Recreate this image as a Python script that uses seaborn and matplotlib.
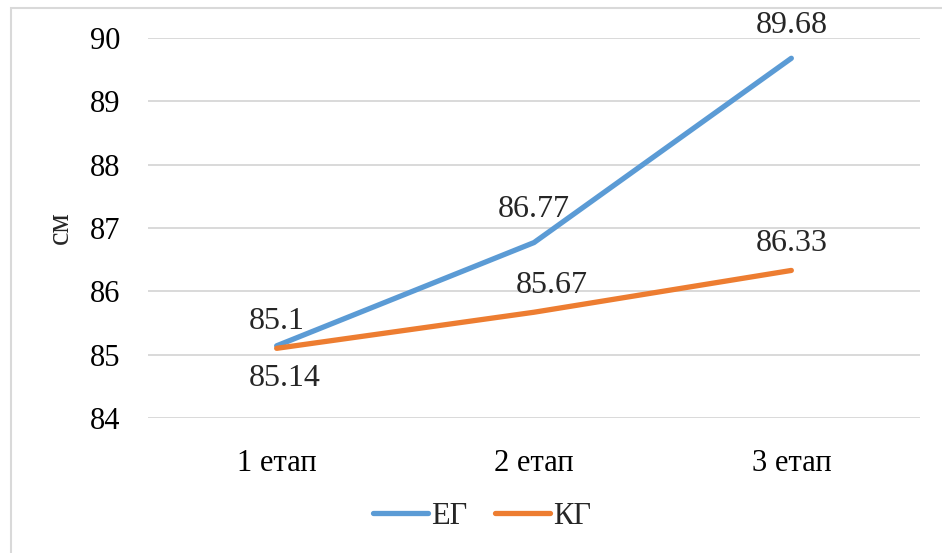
import matplotlib
matplotlib.use("Agg")
import matplotlib.pyplot as plt
import seaborn as sns
import pandas as pd
from matplotlib.patches import Rectangle

stages = ["1 етап", "2 етап", "3 етап"]
eg_values = [85.14, 86.77, 89.68]
kg_values = [85.1, 85.67, 86.33]
eg_labels = ["85.14", "86.77", "89.68"]
kg_labels = ["85.1", "85.67", "86.33"]
groups = ["ЕГ", "КГ"]
y_ticks = [84, 85, 86, 87, 88, 89, 90]

sns.set_theme(style="white")
plt.rcParams["font.family"] = ["Liberation Serif", "DejaVu Serif"]

df = pd.DataFrame({
    "stage": stages * 2,
    "x": list(range(len(stages))) * 2,
    "value": eg_values + kg_values,
    "group": [groups[0]] * 3 + [groups[1]] * 3,
})

fig = plt.figure(figsize=(9.42, 5.53), dpi=100)
ax = fig.add_axes([148 / 942, 1 - 418 / 553, (920 - 148) / 942, (418 - 38) / 553])

palette = {"ЕГ": "#5B9BD5", "КГ": "#ED7D31"}
sns.lineplot(data=df, x="x", y="value", hue="group", hue_order=groups,
             palette=palette, linewidth=3.8, ax=ax, legend=True,
             solid_capstyle="round")

ax.set_xlim(-0.5, len(stages) - 0.5)
ax.set_ylim(84, 90)
ax.set_yticks(y_ticks)
ax.set_yticklabels([str(t) for t in y_ticks], fontsize=22)
ax.set_xticks(range(len(stages)))
ax.set_xticklabels(stages, fontsize=22)
ax.tick_params(axis="both", length=0, colors="#000000")
ax.tick_params(axis="x", pad=22)
ax.tick_params(axis="y", pad=20)
ax.yaxis.grid(True, color="#D9D9D9", linewidth=1.4)
ax.set_axisbelow(True)
for s in ax.spines.values():
    s.set_visible(False)
ax.set_xlabel("")
ax.set_ylabel("см", fontsize=22, labelpad=2)
ax.yaxis.set_label_coords(-0.095, 0.5)

# value labels: КГ above its points, ЕГ above except the first, which sits below
for i, (v, lab) in enumerate(zip(eg_values, eg_labels)):
    dy = -33 if i == 0 else 33
    ax.annotate(lab, (i, v), xytext=(8 if i == 0 else 0, dy), textcoords="offset pixels",
                ha="center", va="center", fontsize=23)
for i, (v, lab) in enumerate(zip(kg_values, kg_labels)):
    dx = 18 if i == 1 else 0
    ax.annotate(lab, (i, v), xytext=(dx, 27), textcoords="offset pixels",
                ha="center", va="center", fontsize=23)

handles, labels = ax.get_legend_handles_labels()
ax.legend(handles, labels, loc="center", bbox_to_anchor=(482 / 942, 1 - 516 / 553),
          bbox_transform=fig.transFigure, ncol=2, frameon=False, fontsize=22,
          handlelength=1.8, handletextpad=0.1, columnspacing=0.9)

# outer chart frame (only top and left edges fall inside the canvas)
fig.patches.append(Rectangle((10.5 / 942, -0.2), 2, 1.2 - 7.5 / 553,
                             transform=fig.transFigure, fill=False,
                             edgecolor="#D9D9D9", linewidth=1.5))

fig.savefig("out.png", dpi=100)
